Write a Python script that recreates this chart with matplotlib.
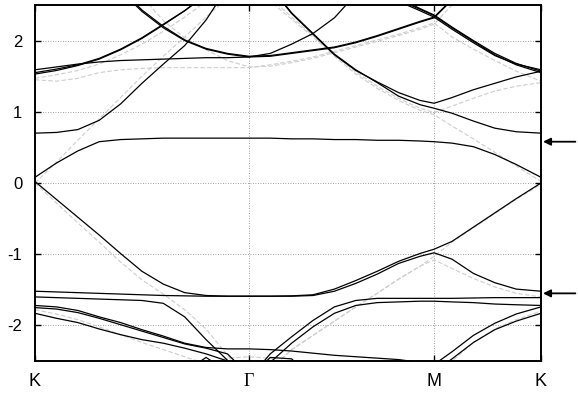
import numpy as np
import matplotlib
matplotlib.use("Agg")
import matplotlib.pyplot as plt

plt.rcParams["font.family"] = ["Liberation Sans", "DejaVu Sans"]

# ===============================
# Path and labels  (K -> Gamma -> M -> K)
# ===============================
k_nodes = [0.0, 0.1, 0.2, 0.3, 0.4, 0.5, 0.6, 0.7, 0.8, 0.9, 1.0,
           1.1, 1.2, 1.3, 1.4, 1.5, 1.6, 1.7, 1.8, 1.866,
           1.95, 2.05, 2.15, 2.25, 2.366]
sym_pos = [0.0, 1.0, 1.866, 2.366]
sym_labels = ["K", "Γ", "M", "K"]
y_ticks = [-2, -1, 0, 1, 2]
arrow_levels = [0.58, -1.55]

# ===============================
# Bands (eV), one value per k node
# ===============================
# solid black bands
dirac_up = [0.08, 0.28, 0.45, 0.58, 0.61, 0.62, 0.63, 0.63, 0.63, 0.63, 0.63,
            0.63, 0.62, 0.62, 0.61, 0.61, 0.60, 0.60, 0.59, 0.58,
            0.56, 0.51, 0.40, 0.26, 0.08]
dirac_dn = [0.02, -0.23, -0.48, -0.73, -0.99, -1.24, -1.42, -1.54, -1.58, -1.59, -1.59,
            -1.59, -1.585, -1.57, -1.49, -1.37, -1.24, -1.10, -0.99, -0.93,
            -0.82, -0.62, -0.42, -0.22, 0.0]
flat_m152 = [-1.52, -1.53, -1.54, -1.55, -1.56, -1.57, -1.58, -1.585, -1.59, -1.59, -1.59,
             -1.59, -1.59, -1.58, -1.52, -1.41, -1.28, -1.13, -1.03, -0.98,
             -1.07, -1.27, -1.40, -1.49, -1.52]
flat_m160 = [-1.60, -1.61, -1.62, -1.63, -1.64, -1.65, -1.69, -1.88, -2.20, -2.49, -2.75,
             -2.40, -2.16, -1.93, -1.74, -1.65, -1.62, -1.62, -1.62, -1.62,
             -1.62, -1.615, -1.61, -1.61, -1.61]
low_a = [-1.75, -1.77, -1.82, -1.90, -1.99, -2.08, -2.17, -2.26, -2.32, -2.40, -2.70,
         -2.52, -2.25, -2.02, -1.83, -1.72, -1.68, -1.67, -1.66, -1.66,
         -1.67, -1.68, -1.70, -1.71, -1.72]
low_b = [-1.72, -1.74, -1.79, -1.88, -1.96, -2.06, -2.15, -2.25, -2.31, -2.33, -2.33,
         -2.34, -2.36, -2.39, -2.42, -2.44, -2.46, -2.48, -2.52, -2.55,
         -2.37, -2.14, -1.97, -1.84, -1.74]
low_c = [-1.83, -1.90, -1.96, -2.05, -2.13, -2.20, -2.25, -2.32, -2.40, -2.50, -2.62,
         -2.70, -2.75, -2.78, -2.80, -2.80, -2.80, -2.80, -2.77, -2.65,
         -2.47, -2.24, -2.06, -1.94, -1.83]
hump_l = [-3, -3, -3, -3, -3, -3, -3, -2.65, -2.45, -2.65, -3,
          -3, -3, -3, -3, -3, -3, -3, -3, -3, -3, -3, -3, -3, -3]
hump_r = [-3, -3, -3, -3, -3, -3, -3, -3, -3, -3, -2.75,
          -2.45, -2.47, -2.75, -3, -3, -3, -3, -3, -3, -3, -3, -3, -3, -3]
up_070 = [0.70, 0.71, 0.75, 0.88, 1.11, 1.40, 1.67, 1.93, 2.29, 2.75, 2.95,
          2.75, 2.38, 2.09, 1.80, 1.58, 1.42, 1.27, 1.16, 1.12,
          1.20, 1.31, 1.40, 1.49, 1.57]
up_070b = [3.2, 3.2, 3.2, 3.2, 3.2, 3.2, 3.2, 3.2, 3.2, 3.2, 3.0,
           2.76, 2.39, 2.10, 1.81, 1.59, 1.41, 1.22, 1.10, 1.05,
           0.98, 0.87, 0.77, 0.72, 0.70]
flat_175 = [1.59, 1.63, 1.67, 1.70, 1.72, 1.73, 1.74, 1.75, 1.76, 1.76, 1.77,
            1.82, 1.95, 2.10, 2.32, 2.65, 2.95, 2.55, 2.42, 2.33,
            2.16, 1.97, 1.79, 1.67, 1.59]
rise_155 = [1.55, 1.60, 1.66, 1.75, 1.88, 2.04, 2.23, 2.42, 2.65, 2.90, 3.1,
            3.1, 3.1, 3.1, 3.1, 3.1, 3.0, 2.57, 2.44, 2.35,
            2.18, 1.99, 1.80, 1.66, 1.55]
rise_153 = [1.53, 1.58, 1.65, 1.74, 1.87, 2.03, 2.22, 2.42, 2.64, 2.90, 3.1,
            3.1, 3.1, 3.1, 3.1, 3.1, 3.0, 2.60, 2.45, 2.36,
            2.19, 2.00, 1.82, 1.68, 1.57]
heavy_g = [3.2, 3.2, 3.2, 3.0, 2.72, 2.43, 2.20, 2.01, 1.89, 1.82, 1.78,
           1.79, 1.83, 1.87, 1.91, 1.98, 2.07, 2.17, 2.27, 2.33,
           2.58, 2.90, 3.1, 3.1, 3.1]
heavy_g2 = [3.2, 3.2, 3.2, 3.0, 2.70, 2.41, 2.18, 2.00, 1.88, 1.81, 1.77,
            1.78, 1.82, 1.86, 1.90, 1.97, 2.06, 2.16, 2.26, 2.32,
            2.57, 2.90, 3.1, 3.1, 3.1]

# light grey dashed bands
g_dirac_up = [0.0, 0.29, 0.60, 0.90, 1.20, 1.50, 1.78, 2.05, 2.33, 2.60, 2.90,
              2.55, 2.30, 2.05, 1.78, 1.53, 1.33, 1.16, 1.02, 0.96,
              0.80, 0.62, 0.43, 0.24, 0.02]
g_dirac_dn = [0.0, -0.28, -0.56, -0.83, -1.11, -1.36, -1.56, -1.78, -2.05, -2.42, -2.80,
              -2.62, -2.34, -2.14, -1.94, -1.74, -1.55, -1.35, -1.17, -1.03,
              -0.83, -0.63, -0.43, -0.23, -0.02]
g_flat = [1.45, 1.43, 1.47, 1.55, 1.59, 1.61, 1.62, 1.62, 1.62, 1.62, 1.62,
          1.66, 1.71, 1.77, 1.85, 1.93, 2.01, 2.09, 2.18, 2.25,
          2.05, 1.88, 1.72, 1.57, 1.43]
g_heavy = [3.2, 3.2, 3.2, 3.2, 3.0, 2.62, 2.28, 2.04, 1.87, 1.72, 1.63,
           1.64, 1.69, 1.75, 1.83, 1.91, 1.99, 2.07, 2.16, 2.23,
           2.50, 2.80, 3.1, 3.1, 3.1]
g_rise = [1.47, 1.52, 1.58, 1.67, 1.80, 1.95, 2.13, 2.33, 2.55, 2.80, 3.0,
          3.1, 3.1, 3.1, 3.1, 3.1, 3.1, 3.1, 3.1, 3.1, 3.1, 3.1, 3.1, 3.1, 3.1]
g_m_up = [3.2, 3.2, 3.2, 3.2, 3.2, 3.2, 3.2, 3.2, 3.2, 3.2, 3.0,
          2.60, 2.33, 2.07, 1.80, 1.56, 1.36, 1.19, 1.05, 0.99,
          1.08, 1.19, 1.29, 1.36, 1.41]
g_m_dn = [-3.2, -3.2, -3.2, -3.2, -3.2, -3.2, -3.2, -3.2, -3.2, -3.2, -3.0,
          -2.62, -2.34, -2.14, -1.94, -1.74, -1.55, -1.35, -1.17, -1.08,
          -1.20, -1.34, -1.46, -1.55, -1.60]
g_low = [-1.78, -1.84, -1.92, -2.02, -2.13, -2.24, -2.34, -2.44, -2.54, -2.64, -2.70,
         -3, -3, -3, -3, -3, -3, -3, -3, -2.75,
         -2.50, -2.24, -2.05, -1.92, -1.80]
g_hump = [-3, -3, -3, -3, -3, -3, -3, -3, -2.55, -2.46, -2.44,
          -2.46, -2.55, -3, -3, -3, -3, -3, -3, -3, -3, -3, -3, -3, -3]

black_bands = [dirac_up, dirac_dn, flat_m152, flat_m160, low_a, low_b, low_c,
               hump_l, hump_r, up_070, up_070b, flat_175, rise_155, rise_153,
               heavy_g, heavy_g2]
grey_bands = [g_dirac_up, g_dirac_dn, g_flat, g_heavy, g_rise, g_m_up, g_m_dn,
              g_low, g_hump]

# ===============================
# Plot
# ===============================
fig = plt.figure(figsize=(5.78, 3.93), dpi=100)
ax = fig.add_axes([35 / 578, 32 / 393, 506 / 578, 356 / 393])

for band in grey_bands:
    ax.plot(k_nodes, band, color="#cdcdcd", lw=0.8, ls=(0, (4, 2)), zorder=2)
for band in black_bands:
    ax.plot(k_nodes, band, color="black", lw=0.9, zorder=3)

ax.set_xlim(sym_pos[0], sym_pos[-1])
ax.set_ylim(-2.5, 2.5)

# dotted grid
for y in y_ticks:
    ax.axhline(y, color="#808080", lw=0.6, ls=(0, (1, 2)), zorder=1)
for x in sym_pos[1:-1]:
    ax.axvline(x, color="#808080", lw=0.6, ls=(0, (1, 2)), zorder=1)

ax.set_yticks(y_ticks)
ax.set_yticklabels([str(v) for v in y_ticks])
ax.set_xticks(sym_pos)
ax.set_xticklabels(sym_labels)
ax.tick_params(axis="y", direction="in", length=4, width=1, right=True,
               labelsize=12, pad=9)
ax.tick_params(axis="x", direction="in", length=4, width=1, top=True,
               labelsize=13, pad=9)
ax.get_xticklabels()[1].set_family(["Liberation Serif", "DejaVu Serif"])

for s in ax.spines.values():
    s.set_linewidth(1.4)

# arrows on the right marking the flat bands
for lev in arrow_levels:
    ax.annotate("", xy=(1.004, lev), xytext=(1.068, lev),
                xycoords=("axes fraction", "data"),
                textcoords=("axes fraction", "data"),
                arrowprops=dict(arrowstyle="-|>", color="black", lw=1.3,
                                mutation_scale=11, shrinkA=0, shrinkB=0),
                annotation_clip=False)

plt.savefig("out.png", dpi=100)
